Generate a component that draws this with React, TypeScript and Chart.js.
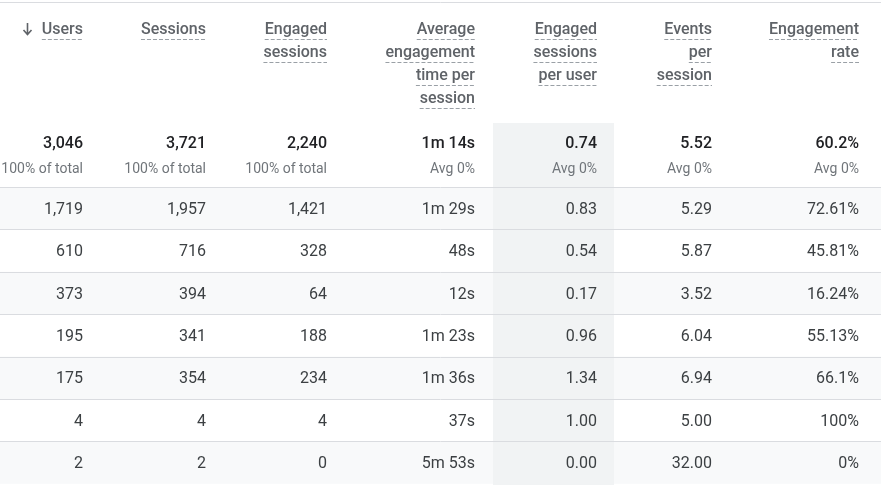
import React, { useEffect, useRef } from "react";
import { Chart, registerables } from "chart.js";

Chart.register(...registerables);

// ---- data ----
const headers: string[][] = [
  ["Users"],
  ["Sessions"],
  ["Engaged", "sessions"],
  ["Average", "engagement", "time per", "session"],
  ["Engaged", "sessions", "per user"],
  ["Events", "per", "session"],
  ["Engagement", "rate"],
];
const totals = ["3,046", "3,721", "2,240", "1m 14s", "0.74", "5.52", "60.2%"];
const totalNotes = ["100% of total", "100% of total", "100% of total", "Avg 0%", "Avg 0%", "Avg 0%", "Avg 0%"];
const users = [1719, 610, 373, 195, 175, 4, 2];
const sessions = [1957, 716, 394, 341, 354, 4, 2];
const engagedSessions = [1421, 328, 64, 188, 234, 4, 0];
const avgEngagementTime = ["1m 29s", "48s", "12s", "1m 23s", "1m 36s", "37s", "5m 53s"];
const engagedSessionsPerUser = [0.83, 0.54, 0.17, 0.96, 1.34, 1.0, 0.0];
const eventsPerSession = [5.29, 5.87, 3.52, 6.04, 6.94, 5.0, 32.0];
const engagementRate = ["72.61%", "45.81%", "16.24%", "55.13%", "66.1%", "100%", "0%"];

// ---- layout (pixel units of the linear scales) ----
const W = 881;
const H = 485;
const colRight = [83, 206, 327, 475, 597, 712, 859];
const highlightCol = { left: 493, right: 614 };
const headerLine0 = 30;
const headerLineStep = 23;
const totalsY = 143.5;
const notesY = 169;
const bodyTop = 187;
const rowH = 42.4;
const textShift = 1.5;

const FONT = "Roboto, 'Noto Sans', Arial, sans-serif";

function cellText(col: number, i: number): string {
  switch (col) {
    case 0: return users[i].toLocaleString("en-US");
    case 1: return sessions[i].toLocaleString("en-US");
    case 2: return engagedSessions[i].toLocaleString("en-US");
    case 3: return avgEngagementTime[i];
    case 4: return engagedSessionsPerUser[i].toFixed(2);
    case 5: return eventsPerSession[i].toFixed(2);
    default: return engagementRate[i];
  }
}

const tablePlugin = {
  id: "tablePlugin",
  beforeDatasetsDraw(chart: any) {
    const ctx: CanvasRenderingContext2D = chart.ctx;
    const xs = chart.scales.x;
    const ys = chart.scales.y;
    const X = (v: number) => xs.getPixelForValue(v);
    const Y = (v: number) => ys.getPixelForValue(v);
    ctx.save();
    ctx.fillStyle = "#ffffff";
    ctx.fillRect(X(0), Y(0), X(W) - X(0), Y(H) - Y(0));

    const nRows = users.length;
    for (let i = 0; i < nRows; i++) {
      const top = bodyTop + i * rowH;
      if (i % 2 === 0) {
        ctx.fillStyle = "#f8f9fa";
        ctx.fillRect(X(0), Y(top), X(W) - X(0), Y(top + rowH) - Y(top));
      }
    }
    ctx.fillStyle = "#f1f3f4";
    ctx.fillRect(X(highlightCol.left), Y(123), X(highlightCol.right) - X(highlightCol.left), Y(H) - Y(123));

    ctx.strokeStyle = "#dadce0";
    ctx.lineWidth = 1;
    ctx.beginPath();
    ctx.moveTo(X(0), Math.round(Y(2)) + 0.5);
    ctx.lineTo(X(W), Math.round(Y(2)) + 0.5);
    for (let i = 0; i < nRows; i++) {
      const y = Math.round(Y(bodyTop + i * rowH)) + 0.5;
      ctx.moveTo(X(0), y);
      ctx.lineTo(X(W), y);
    }
    ctx.stroke();

    ctx.textAlign = "right";
    ctx.textBaseline = "middle";
    ctx.font = `500 16px ${FONT}`;
    headers.forEach((lines, c) => {
      lines.forEach((t, k) => {
        const y = Y(headerLine0 + k * headerLineStep);
        const r = X(colRight[c]);
        ctx.fillStyle = "#5f6368";
        ctx.fillText(t, r, y);
        const w = ctx.measureText(t).width;
        ctx.save();
        ctx.strokeStyle = "#9aa0a6";
        ctx.setLineDash([4, 2]);
        ctx.beginPath();
        const uy = Math.round(y + 9) + 0.5;
        ctx.moveTo(r - w, uy);
        ctx.lineTo(r, uy);
        ctx.stroke();
        ctx.restore();
      });
    });
    {
      ctx.save();
      ctx.strokeStyle = "#5f6368";
      ctx.lineWidth = 1.6;
      const ax = X(27.5);
      ctx.beginPath();
      ctx.moveTo(ax, Y(23));
      ctx.lineTo(ax, Y(34.5));
      ctx.moveTo(ax - 4, Y(30));
      ctx.lineTo(ax, Y(34.5));
      ctx.lineTo(ax + 4, Y(30));
      ctx.stroke();
      ctx.restore();
    }

    ctx.font = `500 16px ${FONT}`;
    ctx.fillStyle = "#202124";
    totals.forEach((t, c) => ctx.fillText(t, X(colRight[c]), Y(totalsY)));
    ctx.font = `400 14px ${FONT}`;
    ctx.fillStyle = "#70757a";
    totalNotes.forEach((t, c) => ctx.fillText(t, X(colRight[c]), Y(notesY)));

    ctx.font = `400 16px ${FONT}`;
    ctx.fillStyle = "#3c4043";
    for (let i = 0; i < nRows; i++) {
      const cy = Y(bodyTop + i * rowH + rowH / 2 + textShift);
      for (let c = 0; c < colRight.length; c++) {
        ctx.fillText(cellText(c, i), X(colRight[c]), cy);
      }
    }
    ctx.restore();
  },
};

export default function App() {
  const ref = useRef<HTMLCanvasElement | null>(null);
  useEffect(() => {
    if (!ref.current) return;
    const chart = new Chart(ref.current, {
      type: "scatter",
      data: { datasets: [{ data: [], pointRadius: 0 }] },
      options: {
        animation: false,
        responsive: false,
        layout: { padding: 0 },
        plugins: { legend: { display: false }, tooltip: { enabled: false } },
        scales: {
          x: { type: "linear", min: 0, max: W, display: false },
          y: { type: "linear", min: 0, max: H, reverse: true, display: false },
        },
      },
      plugins: [tablePlugin],
    });
    return () => chart.destroy();
  }, []);
  return (
    <div style={{ position: "absolute", left: 0, top: 0, width: W, height: H, background: "#fff" }}>
      <canvas ref={ref} width={W} height={H} style={{ width: W, height: H, display: "block" }} />
    </div>
  );
}
